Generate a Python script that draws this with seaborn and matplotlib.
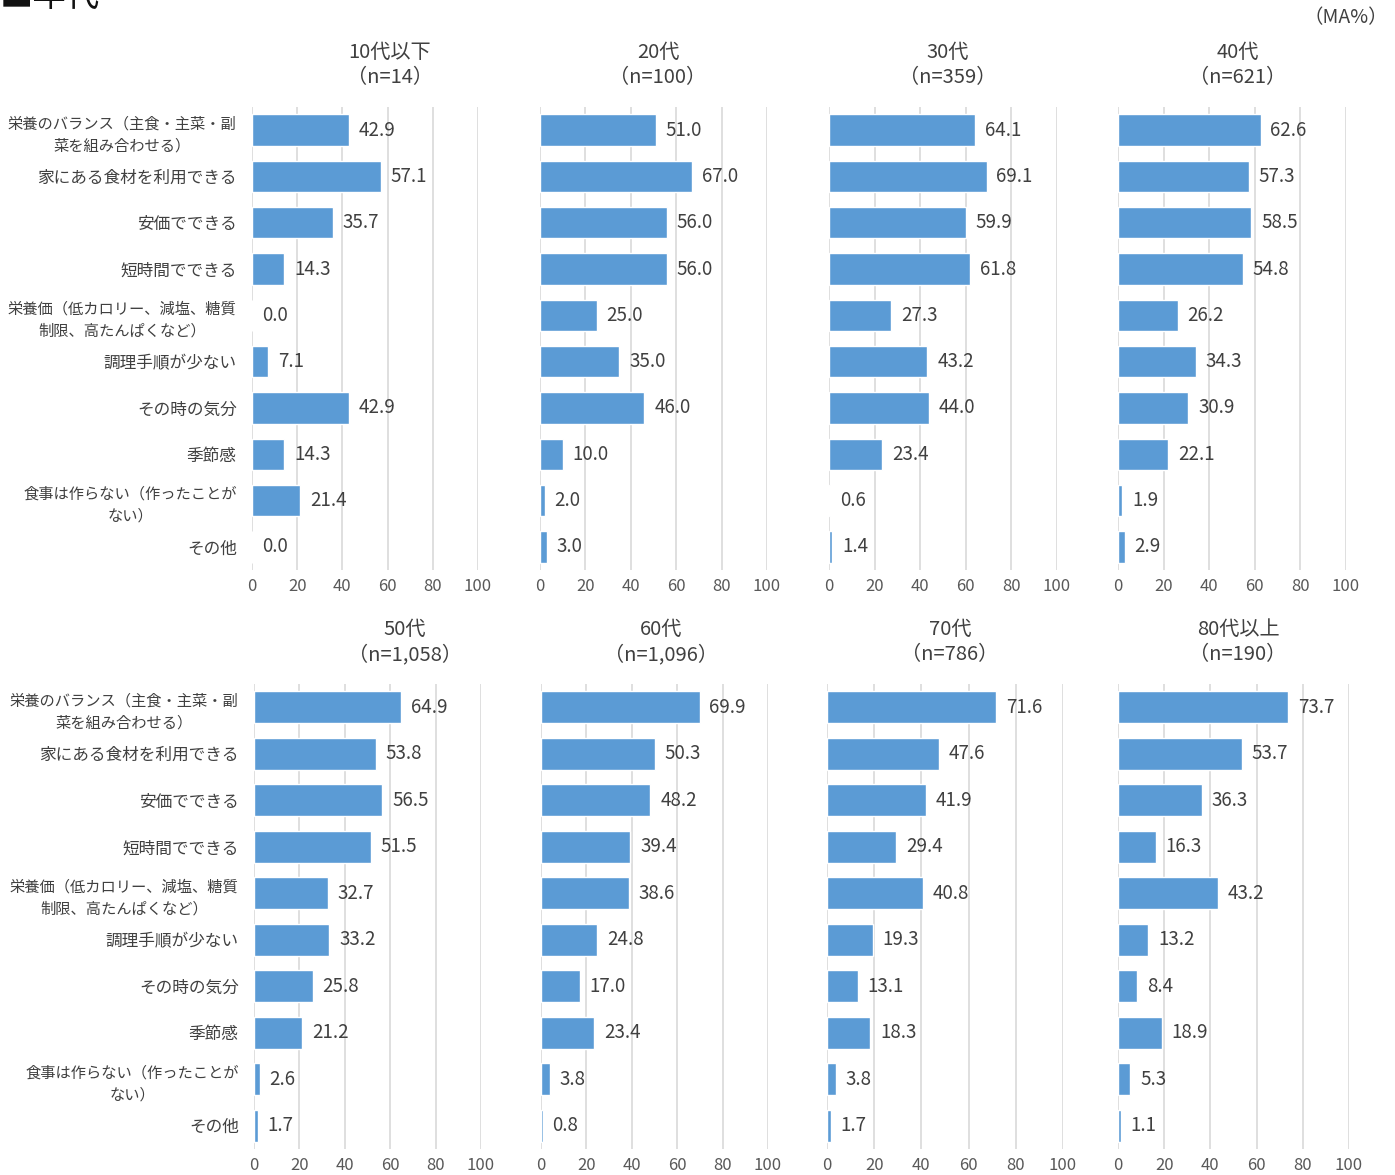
import matplotlib
matplotlib.use("Agg")
import matplotlib.pyplot as plt
import seaborn as sns
import pandas as pd

sns.set_theme(style="white")
plt.rcParams["font.family"] = ["Noto Sans CJK JP", "DejaVu Sans"]

categories = [
    "栄養のバランス（主食・主菜・副\n菜を組み合わせる）",
    "家にある食材を利用できる",
    "安価でできる",
    "短時間でできる",
    "栄養価（低カロリー、減塩、糖質\n制限、高たんぱくなど）",
    "調理手順が少ない",
    "その時の気分",
    "季節感",
    "食事は作らない（作ったことが\nない）",
    "その他",
]

groups = ["10代以下", "20代", "30代", "40代", "50代", "60代", "70代", "80代以上"]
sample_sizes = ["n=14", "n=100", "n=359", "n=621", "n=1,058", "n=1,096", "n=786", "n=190"]

v_10s = [42.9, 57.1, 35.7, 14.3, 0.0, 7.1, 42.9, 14.3, 21.4, 0.0]
v_20s = [51.0, 67.0, 56.0, 56.0, 25.0, 35.0, 46.0, 10.0, 2.0, 3.0]
v_30s = [64.1, 69.1, 59.9, 61.8, 27.3, 43.2, 44.0, 23.4, 0.6, 1.4]
v_40s = [62.6, 57.3, 58.5, 54.8, 26.2, 34.3, 30.9, 22.1, 1.9, 2.9]
v_50s = [64.9, 53.8, 56.5, 51.5, 32.7, 33.2, 25.8, 21.2, 2.6, 1.7]
v_60s = [69.9, 50.3, 48.2, 39.4, 38.6, 24.8, 17.0, 23.4, 3.8, 0.8]
v_70s = [71.6, 47.6, 41.9, 29.4, 40.8, 19.3, 13.1, 18.3, 3.8, 1.7]
v_80s = [73.7, 53.7, 36.3, 16.3, 43.2, 13.2, 8.4, 18.9, 5.3, 1.1]
series = [v_10s, v_20s, v_30s, v_40s, v_50s, v_60s, v_70s, v_80s]

xticks = [0, 20, 40, 60, 80, 100]

BAR = "#5b9bd5"
TXT = "#404040"
GRID = "#d9d9d9"

W, H = 1395, 1175
fig = plt.figure(figsize=(W / 100, H / 100), dpi=100)

# panel placement in pixels: (x of 0, x of 100, top, bottom)
rows = [
    dict(x0=[252, 540, 829, 1118], x1=[478, 767, 1057, 1346], top=107, bot=570,
         title_x=[390, 658, 948, 1238], title_y=[52, 78]),
    dict(x0=[254, 541, 827, 1118], x1=[481, 768, 1063, 1349], top=684, bot=1149,
         title_x=[405, 661, 950, 1238], title_y=[629, 655]),
]

for i, (grp, n, vals) in enumerate(zip(groups, sample_sizes, series)):
    r, c = divmod(i, 4)
    spec = rows[r]
    left = spec["x0"][c] / W
    width = (spec["x1"][c] - spec["x0"][c]) / W
    bottom = 1 - spec["bot"] / H
    height = (spec["bot"] - spec["top"]) / H
    ax = fig.add_axes([left, bottom, width, height])

    df = pd.DataFrame({"item": categories, "value": vals})
    sns.barplot(data=df, x="value", y="item", ax=ax, color=BAR, width=0.68,
                saturation=1, orient="h", zorder=3)

    ax.set_xlim(0, 100)
    ax.set_ylim(9.5, -0.5)
    ax.set_xticks(xticks)
    ax.set_xticklabels([str(t) for t in xticks], fontsize=12, color="#595959")
    for t in xticks:
        ax.axvline(t, color=GRID, lw=1.2, zorder=1)
    for s in ax.spines.values():
        s.set_visible(False)
    ax.tick_params(axis="x", length=0, pad=6)
    ax.tick_params(axis="y", length=0, pad=11)
    ax.set_xlabel("")
    ax.set_ylabel("")

    ax.set_yticks(range(len(categories)))
    if c == 0:
        ax.set_yticklabels(categories, color=TXT, linespacing=1.4)
        for lbl in ax.get_yticklabels():
            lbl.set_multialignment("center")
            lbl.set_fontsize(11 if "\n" in lbl.get_text() else 12)
    else:
        ax.set_yticklabels([])

    for j, v in enumerate(vals):
        ax.annotate(f"{v:.1f}", xy=(v, j), xytext=(7, 0), textcoords="offset points",
                    va="center", ha="left", fontsize=13.5, color=TXT, clip_on=False)

    fig.text(spec["title_x"][c] / W, 1 - spec["title_y"][0] / H, grp,
             ha="center", va="center", fontsize=14.5, color=TXT)
    fig.text(spec["title_x"][c] / W, 1 - spec["title_y"][1] / H, f"（{n}）",
             ha="center", va="center", fontsize=14.5, color=TXT)

fig.text(1388 / W, 1 - 18 / H, "（MA%）", ha="right", va="center", fontsize=14, color=TXT)
fig.text(0.0, 1 - 6 / H, "■年代", ha="left", va="baseline", fontsize=24, color="#111111")

fig.savefig("out.png", dpi=100, facecolor="white")
